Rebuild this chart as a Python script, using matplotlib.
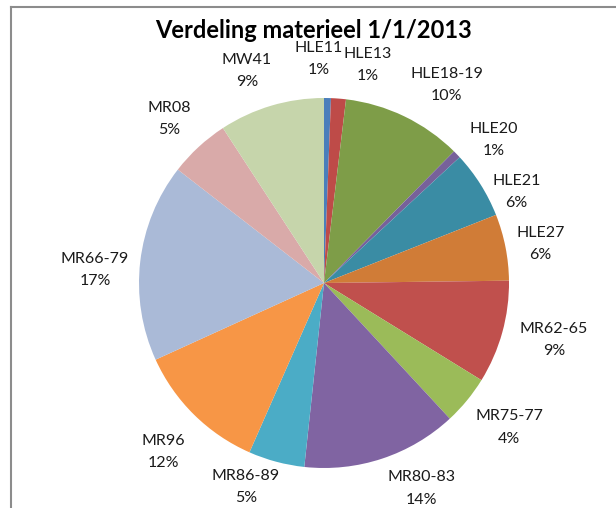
import numpy as np
import matplotlib
matplotlib.use('Agg')
import matplotlib.pyplot as plt
from matplotlib.lines import Line2D

# share of each rolling stock type, clockwise from 12 o'clock
types = ['HLE11', 'HLE13', 'HLE18-19', 'HLE20', 'HLE21', 'HLE27', 'MR62-65',
         'MR75-77', 'MR80-83', 'MR86-89', 'MR96', 'MR66-79', 'MR08', 'MW41']
share = [0.6, 1.3, 10.5, 0.7, 5.9, 5.8, 9.0, 4.3, 13.6, 4.9, 11.6, 17.3, 5.3, 9.2]
pct_text = ['1%', '1%', '10%', '1%', '6%', '6%', '9%',
            '4%', '14%', '5%', '12%', '17%', '5%', '9%']

colors = ['#4A7EBB', '#BE4B48', '#7E9D48', '#77619A', '#3A8CA4', '#D07C37', '#C0504D',
          '#9BBB59', '#8064A2', '#4BACC6', '#F79646', '#AABAD7', '#D9AAA9', '#C6D5AB']

# label placement tweaks (angle shift in degrees, distance in radii)
lbl_shift = [-2.5, 6.8, 6, 4, 7, 1, -1.5, -1.5, -7, 6, -1, -3.5, -0.7, -3.4]
lbl_dist = [1.21, 1.2, 1.26, 1.2, 1.15, 1.19, 1.28, 1.27, 1.23, 1.18, 1.26, 1.24, 1.22, 1.22]

W, H = 616, 508
fig = plt.figure(figsize=(W / 100, H / 100), dpi=100)
ax = fig.add_axes([0, 0, 1, 1])

cx, cy, R = 324, H - 283, 185
wedges, _ = ax.pie(share, colors=colors, startangle=90, counterclock=False,
                   center=(cx, cy), radius=R, frame=True,
                   wedgeprops=dict(linewidth=0))
ax.set_xlim(0, W)
ax.set_ylim(0, H)
ax.set_aspect('equal')
ax.axis('off')

for i, w in enumerate(wedges):
    ang = np.deg2rad((w.theta1 + w.theta2) / 2 - lbl_shift[i])
    x = cx + lbl_dist[i] * R * np.cos(ang)
    y = cy + lbl_dist[i] * R * np.sin(ang)
    ax.text(x, y, types[i] + '\n' + pct_text[i], ha='center', va='center',
            fontsize=11.5, family='Lato', color='#1a1a1a', linespacing=1.75)

fig.text(313.5 / W, 1 - 31 / H, 'Verdeling materieel 1/1/2013', ha='center', va='center',
         fontsize=17, fontweight='bold', family='Lato', color='black')

# chart border (only left and top visible in the crop)
fig.add_artist(Line2D([10.5 / W, 10.5 / W], [0, 1 - 7 / H], color='#8c8c8c', lw=1.5))
fig.add_artist(Line2D([10.5 / W, 1], [1 - 7 / H, 1 - 7 / H], color='#8c8c8c', lw=1.5))

fig.savefig('out.png', dpi=100, facecolor='white')
